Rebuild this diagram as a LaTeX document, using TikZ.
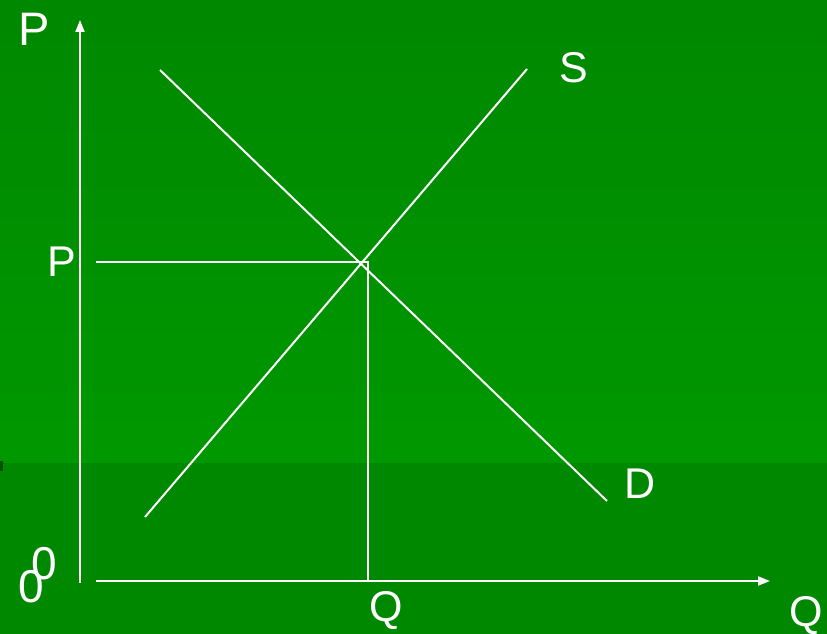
\documentclass[tikz,border=0pt]{standalone}
\usepackage{fontspec}
\setmainfont{Liberation Sans}
\usetikzlibrary{arrows.meta}
\definecolor{gtop}{RGB}{0,136,0}
\definecolor{gmid}{RGB}{0,152,0}
\definecolor{gband}{RGB}{0,136,0}
\definecolor{gmark}{RGB}{0,80,0}
\begin{document}
\begin{tikzpicture}[x=1pt,y=-1pt,
  wl/.style={draw=white,line width=2pt},
  axis/.style={wl,-{Triangle[length=12pt,width=9pt]}},
  lbl/.style={text=white,inner sep=0pt,font=\fontsize{43}{50}\selectfont},
  zlbl/.style={text=white,inner sep=0pt,font=\fontsize{46}{52}\selectfont}]
\useasboundingbox (0,0) rectangle (827,634);
\shade[top color=gtop,bottom color=gmid] (0,0) rectangle (827,463);
\fill[gband] (0,463) rectangle (827,634);
\fill[gmark] (0,461) rectangle (3,471);
% coordinates
\coordinate (O) at (80,583);
\coordinate (Ytip) at (80,20);
\coordinate (Xs) at (96,581);
\coordinate (Xtip) at (770,581);
\coordinate (Pl) at (96,262);
\coordinate (E) at (368,262);
\coordinate (Qb) at (368,581);
\coordinate (S0) at (145,517);
\coordinate (S1) at (527,69);
\coordinate (D0) at (160,70);
\coordinate (D1) at (607,501);
% axes
\draw[axis] (O) -- (Ytip);
\draw[axis] (Xs) -- (Xtip);
% curves
\draw[wl] (S0) -- (S1);
\draw[wl] (D0) -- (D1);
% equilibrium lines
\draw[wl] (Pl) -- (E) -- (Qb);
% labels
\node[lbl,font=\fontsize{47}{52}\selectfont] (lP) at (34,29) {P};
\node[lbl] (lPe) at (62,262) {P};
\node[lbl] (lS) at (574,68) {S};
\node[lbl] (lD) at (640,484) {D};
\node[lbl] (lQe) at (386,611) {Q};
\node[lbl] (lQ) at (806,616) {Q};
\node[zlbl] (z1) at (44,564) {0};
\node[zlbl] (z2) at (31,587) {0};
\end{tikzpicture}
\end{document}
